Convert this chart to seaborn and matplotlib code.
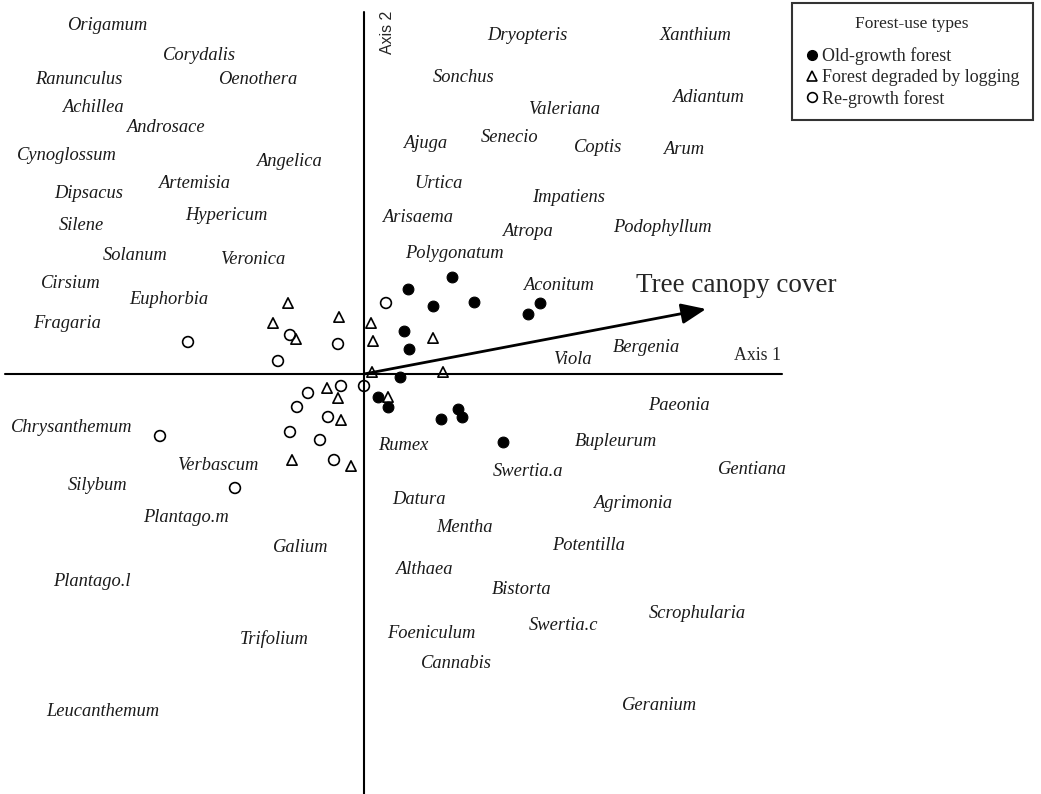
import numpy as np
import pandas as pd
import matplotlib
matplotlib.use("Agg")
import matplotlib.pyplot as plt
import seaborn as sns
from matplotlib.lines import Line2D

# site scores on the two ordination axes
old_x = [0.88, 0.44, 0.69, 1.10, 1.64, 1.76, 0.40, 0.45, 0.36, 0.14, 0.24, 0.77, 0.94, 0.98, 1.39]
old_y = [0.97, 0.85, 0.68, 0.72, 0.60, 0.71, 0.43, 0.25, -0.03, -0.23, -0.33, -0.45, -0.35, -0.43, -0.68]

logged_x = [-0.76, -0.91, -0.68, -0.25, 0.07, 0.09, 0.69, 0.08, 0.79, 0.24, -0.37, -0.26, -0.23, -0.72, -0.13]
logged_y = [0.71, 0.51, 0.35, 0.57, 0.51, 0.33, 0.36, 0.02, 0.02, -0.23, -0.14, -0.24, -0.46, -0.86, -0.92]

regrowth_x = [-1.76, -0.74, -0.26, -0.86, 0.22, -0.56, -0.23, 0.00, -0.67, -0.36, -0.74, -0.44, -2.04, -0.30, -1.29]
regrowth_y = [0.32, 0.39, 0.30, 0.13, 0.71, -0.19, -0.12, -0.12, -0.33, -0.43, -0.58, -0.66, -0.62, -0.86, -1.14]

# species scores
species = ["Origamum", "Corydalis", "Ranunculus", "Oenothera", "Achillea", "Androsace",
           "Cynoglossum", "Angelica", "Dipsacus", "Artemisia", "Silene", "Hypericum",
           "Solanum", "Veronica", "Cirsium", "Euphorbia", "Fragaria", "Chrysanthemum",
           "Verbascum", "Silybum", "Plantago.m", "Galium", "Plantago.l", "Trifolium",
           "Leucanthemum",
           "Dryopteris", "Xanthium", "Sonchus", "Adiantum", "Valeriana", "Ajuga",
           "Senecio", "Coptis", "Arum", "Urtica", "Impatiens", "Arisaema", "Atropa",
           "Podophyllum", "Polygonatum", "Aconitum", "Bergenia", "Viola", "Paeonia",
           "Bupleurum", "Rumex", "Gentiana", "Swertia.a", "Datura", "Agrimonia",
           "Mentha", "Potentilla", "Althaea", "Bistorta", "Scrophularia", "Swertia.c",
           "Foeniculum", "Cannabis", "Geranium"]
sp_x = [-2.57, -1.64, -2.85, -1.06, -2.71, -1.99, -2.97, -0.75, -2.75, -1.70, -2.83, -1.38,
        -2.29, -1.11, -2.93, -1.95, -2.97, -2.92, -1.46, -2.66, -1.78, -0.63, -2.72, -0.90,
        -2.61,
        1.63, 3.32, 1.00, 3.44, 2.00, 0.61, 1.46, 2.34, 3.20, 0.74, 2.05, 0.54, 1.63,
        2.98, 0.90, 1.94, 2.82, 2.08, 3.15, 2.52, 0.39, 3.88, 1.64, 0.55, 2.69,
        1.00, 2.25, 0.60, 1.58, 3.33, 2.00, 0.67, 0.92, 2.96]
sp_y = [3.49, 3.18, 2.94, 2.94, 2.66, 2.47, 2.18, 2.12, 1.81, 1.91, 1.48, 1.59,
        1.18, 1.14, 0.91, 0.75, 0.51, -0.53, -0.91, -1.12, -1.44, -1.74, -2.08, -2.65,
        -3.38,
        3.39, 3.39, 2.96, 2.77, 2.64, 2.31, 2.37, 2.27, 2.24, 1.91, 1.77, 1.56, 1.42,
        1.46, 1.20, 0.89, 0.27, 0.14, -0.32, -0.67, -0.72, -0.95, -0.97, -1.26, -1.29,
        -1.54, -1.71, -1.95, -2.15, -2.39, -2.52, -2.59, -2.89, -3.32]

# environmental vector
canopy_vec = (3.42, 0.65)

sns.set_style("white")
plt.rcParams["font.family"] = ["Liberation Serif", "DejaVu Serif"]

fig = plt.figure(figsize=(10.41, 7.94), dpi=100)
ax = fig.add_axes([0, 0, 1, 1])
ax.set_xlim(-3.64, 6.77)
ax.set_ylim(-4.20, 3.74)
ax.axis("off")

# axes through the origin
ax.plot([-3.59, 4.18], [0, 0], color="black", lw=1.5, zorder=1)
ax.plot([0, 0], [3.62, -4.20], color="black", lw=1.5, zorder=1)

sites = pd.concat([
    pd.DataFrame({"x": old_x, "y": old_y, "type": "Old-growth forest"}),
    pd.DataFrame({"x": logged_x, "y": logged_y, "type": "Forest degraded by logging"}),
    pd.DataFrame({"x": regrowth_x, "y": regrowth_y, "type": "Re-growth forest"}),
])

g = sites[sites["type"] == "Old-growth forest"]
sns.scatterplot(data=g, x="x", y="y", marker="o", s=60, color="black",
                edgecolor="black", linewidth=0.8, ax=ax, zorder=3, legend=False)
g = sites[sites["type"] == "Forest degraded by logging"]
sns.scatterplot(data=g, x="x", y="y", marker="^", s=55, facecolors="none",
                edgecolor="black", linewidth=1.2, ax=ax, zorder=3, legend=False)
g = sites[sites["type"] == "Re-growth forest"]
sns.scatterplot(data=g, x="x", y="y", marker="o", s=60, facecolors="none",
                edgecolor="black", linewidth=1.2, ax=ax, zorder=3, legend=False)

for name, x, y in zip(species, sp_x, sp_y):
    ax.text(x, y, name, ha="center", va="center", fontstyle="italic",
            fontsize=13.3, color="#1a1a1a")

ax.annotate("", xy=canopy_vec, xytext=(0, 0),
            arrowprops=dict(arrowstyle="-|>,head_length=0.6,head_width=0.25",
                            lw=2, color="black", mutation_scale=25,
                            shrinkA=0, shrinkB=0))
ax.text(2.72, 0.88, "Tree canopy cover", ha="left", va="center", fontsize=19.5)
ax.text(3.94, 0.19, "Axis 1", ha="center", va="center", fontsize=12.8)
ax.text(0.23, 3.42, "Axis 2", ha="center", va="center", rotation=90,
        fontsize=11.4, family=["Liberation Sans", "DejaVu Sans"])

ax.set_xlabel("")
ax.set_ylabel("")

handles = [
    Line2D([], [], ls="none", marker="o", ms=7, mfc="black", mec="black"),
    Line2D([], [], ls="none", marker="^", ms=6.5, mfc="none", mec="black", mew=1.2),
    Line2D([], [], ls="none", marker="o", ms=7, mfc="none", mec="black", mew=1.2),
]
labels = ["Old-growth forest", "Forest degraded by logging", "Re-growth forest"]
leg = ax.legend(handles, labels, title="Forest-use types", loc="upper left",
                bbox_to_anchor=(0.7605, 0.996), bbox_transform=fig.transFigure,
                fontsize=13, title_fontsize=12.5, frameon=True, fancybox=False,
                handletextpad=0.2, handlelength=0.8, borderpad=0.7, labelspacing=0.22,
                borderaxespad=0)
leg._legend_box.sep = 11
leg.get_frame().set_edgecolor("black")
leg.get_frame().set_linewidth(1.5)

fig.savefig("out.png", dpi=100)
